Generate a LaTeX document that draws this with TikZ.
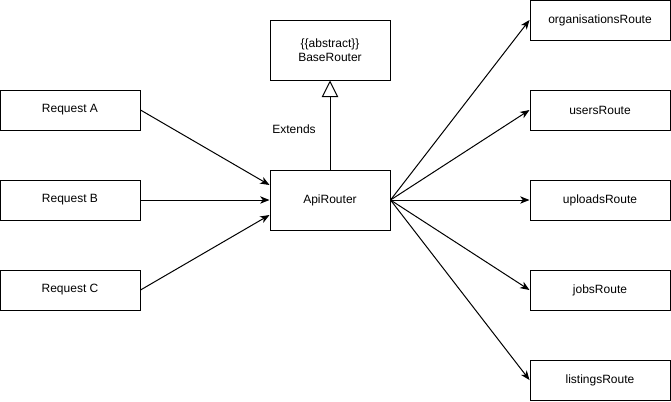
\documentclass[tikz,border=0pt]{standalone}
\usepackage{fontspec}
\setmainfont{Liberation Sans}
\usetikzlibrary{arrows.meta,positioning}

\begin{document}
\begin{tikzpicture}[
  x=0.75pt, y=-0.75pt,
  font=\fontsize{9pt}{10.5pt}\selectfont,
  line width=0.75pt,
  box/.style={draw, align=center, minimum width=105pt, minimum height=30pt, inner sep=0pt},
  core/.style={box, minimum width=90pt, minimum height=45pt},
  arr/.style={-{Stealth[length=7pt, width=5.5pt, inset=2pt]}},
  ext/.style={-{Triangle[open, length=12.5pt, width=12.5pt, fill=white]}}]
\useasboundingbox (0,0) rectangle (671,401);
% requests
\node[box] (reqA) at (70,110) {Request A};
\node[box] (reqB) at (70,200) {Request B};
\node[box] (reqC) at (70,290) {Request C};
% routers
\node[core] (base) at (330,50) {\{\{abstract\}\}\\BaseRouter};
\node[core] (api) at (330,200) {ApiRouter};
% routes
\node[box] (orgs) at (600,20) {organisationsRoute};
\node[box] (users) at (600,110) {usersRoute};
\node[box] (uploads) at (600,200) {uploadsRoute};
\node[box] (jobs) at (600,290) {jobsRoute};
\node[box] (listings) at (600,380) {listingsRoute};
% connectors
\draw[arr] (reqA.east) -- ([yshift=11.25pt]api.west);
\draw[arr] (reqB.east) -- (api.west);
\draw[arr] (reqC.east) -- ([yshift=-11.25pt]api.west);
\draw[ext] (api.north) -- node[pos=0.45, anchor=east, xshift=-7pt] {Extends} (base.south);
\foreach \r in {orgs,users,uploads,jobs,listings}
  \draw[arr] (api.east) -- (\r.west);
\end{tikzpicture}
\end{document}
